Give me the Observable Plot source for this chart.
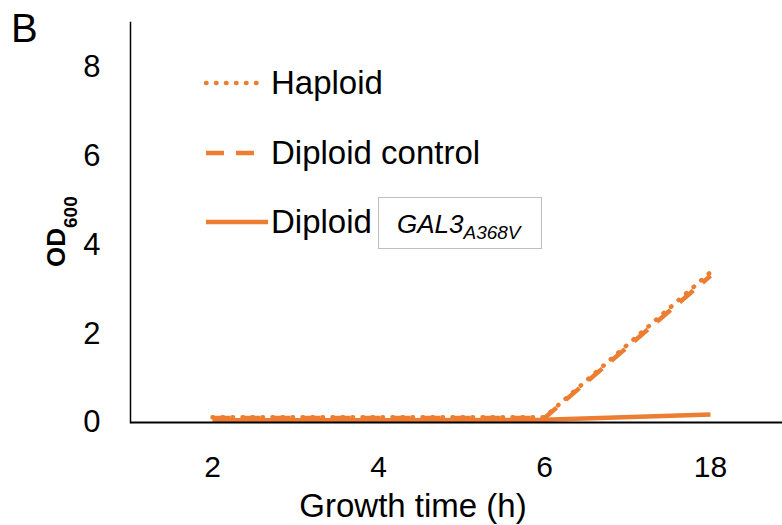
<!DOCTYPE html>
<html><head><meta charset="utf-8">
<script src="https://cdn.jsdelivr.net/npm/d3@7"></script>
<script src="https://cdn.jsdelivr.net/npm/@observablehq/plot@0.6"></script>
<style>
body{margin:0;background:#fff;}
#chart{position:relative;width:782px;height:525px;}
</style>
</head><body><div id="chart"></div>
<script>
const times = ["2", "4", "6", "18"];
const haploid = [0.12, 0.12, 0.12, 3.38];
const diploidControl = [0.1, 0.1, 0.1, 3.3];
const diploidGal3 = [0.05, 0.05, 0.06, 0.18];
const yTicks = [0, 2, 4, 6, 8];
const seriesNames = ["Haploid", "Diploid control", "Diploid"];

const orange = "#ED7D31";
const font = "'Liberation Sans', Arial, sans-serif";
const dashes = {"Haploid": "0.5 9.5", "Diploid control": "18 12", "Diploid": null};

const rows = [];
[haploid, diploidControl, diploidGal3].forEach((vals, i) => {
  vals.forEach((v, j) => rows.push({series: seriesNames[i], t: times[j], v}));
});

const lineFor = (name) => Plot.line(rows.filter(d => d.series === name), {
  x: "t", y: "v", stroke: orange, strokeWidth: 4.5,
  strokeDasharray: dashes[name] || undefined,
  strokeLinecap: name === "Haploid" ? "round" : "butt"
});

const svg = Plot.plot({
  width: 782, height: 525,
  marginLeft: 130, marginRight: 0, marginTop: 22, marginBottom: 103,
  style: {fontFamily: font, fontSize: "31px", color: "#000", background: "#fff"},
  x: {type: "point", domain: times, range: [212, 710], padding: 0},
  y: {domain: [0, 9]},
  marks: [
    Plot.axisY({ticks: yTicks, tickSize: 0, tickPadding: 30, label: null, fontSize: 31}),
    Plot.axisX({tickSize: 0, tickPadding: 33, label: null, fontSize: 30}),
    lineFor("Haploid"),
    lineFor("Diploid control"),
    lineFor("Diploid"),
    Plot.frame({anchor: "left", stroke: "#000", strokeWidth: 1.5}),
    Plot.ruleY([0], {stroke: "#000", strokeWidth: 1.8})
  ]
});
document.getElementById("chart").appendChild(svg);

const s = d3.select(svg);
const g = s.append("g").attr("font-family", font).attr("fill", "#000").attr("text-anchor", "start");

// panel letter
g.append("text").attr("x", 11).attr("y", 42).attr("font-size", 40).text("B");

// y axis title
const yt = g.append("text").attr("transform", "translate(65,267) rotate(-90)")
  .attr("font-weight", "bold").attr("font-size", 26);
yt.append("tspan").text("OD");
yt.append("tspan").attr("font-size", 19).attr("dy", 12).text("600");

// x axis title
g.append("text").attr("x", 413).attr("y", 517).attr("text-anchor", "middle")
  .attr("font-size", 33).text("Growth time (h)");

// legend
const legendY = [83, 153, 222];
const legendBase = [94, 164, 233];
const legendLen = [60, 50, 62];
seriesNames.forEach((name, i) => {
  const ln = g.append("line").attr("x1", 206).attr("x2", 206 + legendLen[i])
    .attr("y1", legendY[i]).attr("y2", legendY[i])
    .attr("stroke", orange).attr("stroke-width", 4.5);
  if (dashes[name]) ln.attr("stroke-dasharray", dashes[name]);
  if (name === "Haploid") ln.attr("stroke-linecap", "round");
  g.append("text").attr("x", 271).attr("y", legendBase[i]).attr("font-size", 33).text(name);
});
g.append("rect").attr("x", 378.5).attr("y", 197.5).attr("width", 163).attr("height", 51)
  .attr("fill", "#fff").attr("stroke", "#bfbfbf").attr("stroke-width", 1);
const gal = g.append("text").attr("x", 397).attr("y", 233).attr("font-size", 26).attr("font-style", "italic");
gal.append("tspan").text("GAL3");
gal.append("tspan").attr("font-size", 19).attr("dy", 6).text("A368V");
</script>
</body></html>
